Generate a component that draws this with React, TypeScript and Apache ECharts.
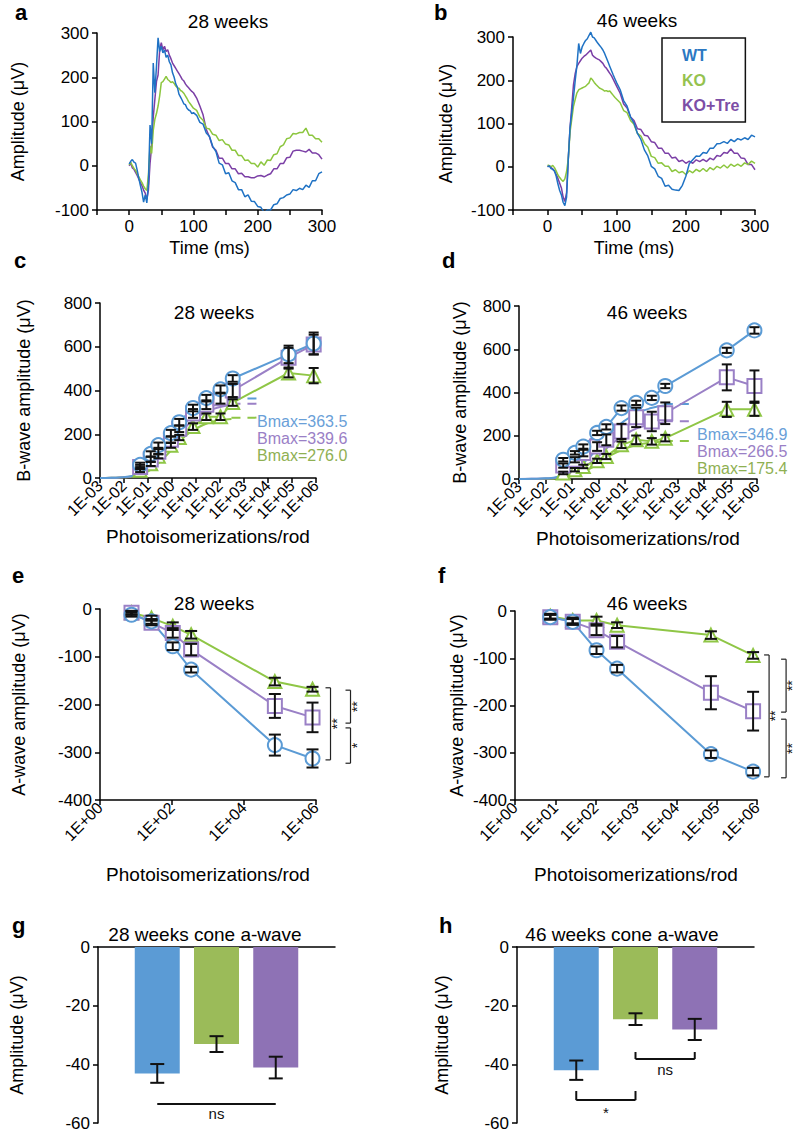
import React, { useEffect, useRef } from 'react';
import * as echarts from 'echarts';

const FONT = '"Liberation Sans", Arial, Helvetica, sans-serif';

// ---------- groups & colours ----------
const GROUPS = ['WT', 'KO', 'KO+Tre'];
const TRACE_COLORS = ['#1f72c4', '#8cc63e', '#7b3fa6'];
const LINE_COLORS = ['#5b9bd5', '#8fc646', '#9a80c6'];
const LABEL_COLORS = ['#6a9fd8', '#8fb052', '#9a80c6'];
const LEGEND_COLORS = ['#2b78c2', '#95c24f', '#7c4ea6'];
const BAR_COLORS = ['#5b9bd5', '#9bbb59', '#8e72b5'];
const SYMBOLS = ['emptyCircle', 'emptyTriangle', 'emptyRect'];
const SYMBOL_SIZES = [14, 13, 14];

// ---------- a, b: ERG traces ----------
const TIME_MS = [0, 2.5, 5, 7.5, 10, 12.5, 15, 17.5, 20, 22.5, 25, 27.5, 30, 32.5, 35, 37.5, 40, 42.5, 45, 47.5, 50,
  52.5, 55, 57.5, 60, 62.5, 65, 67.5, 70, 72.5, 75, 77.5, 80, 82.5, 85, 87.5, 90, 92.5, 95, 97.5, 100,
  105, 110, 115, 120, 125, 130, 135, 140, 145, 150, 155, 160, 165, 170, 175, 180, 185, 190, 195, 200,
  205, 210, 215, 220, 225, 230, 235, 240, 245, 250, 255, 260, 265, 270, 275, 280, 285, 290, 295, 300];

const A28_WT = [4, 10, 14, 8, 6, -10, -28, -45, -60, -82, -66, -84, -40, 92, 50, 232, 165, 225, 289, 258,
  270, 255, 262, 245, 250, 235, 228, 210, 200, 185, 178, 162, 155, 148, 140, 138, 130, 126, 124, 118, 120,
  114, 98, 94, 74, 66, 44, 32, 6, 2, -18, -16, -34, -38, -54, -54, -70, -66, -80, -81, -92,
  -94, -106, -100, -100, -88, -86, -74, -72, -66, -64, -54, -56, -51, -54, -44, -49, -34, -34, -18, -14];
const A28_KO = [2, 8, 0, -6, -10, -18, -25, -32, -38, -46, -52, -56, -20, 45, 28, 80, 105, 118, 135, 158,
  188, 190, 196, 202, 195, 192, 188, 190, 186, 180, 176, 175, 170, 168, 164, 158, 152, 145, 140, 135, 130,
  125, 110, 103, 85, 83, 71, 69, 57, 59, 49, 47, 35, 35, 23, 23, 12, 13, 5, 5, -3,
  9, 1, 13, 12, 25, 27, 43, 47, 61, 63, 73, 72, 75, 75, 85, 69, 69, 61, 61, 53];
const A28_TRE = [0, 6, -5, -8, -15, -22, -30, -38, -45, -55, -62, -76, -55, 5, 45, 110, 150, 190, 205, 262,
  278, 262, 270, 258, 262, 250, 242, 232, 226, 220, 214, 208, 202, 195, 192, 185, 180, 176, 172, 168, 165,
  153, 135, 115, 82, 65, 42, 35, 17, 17, 5, 5, -7, -7, -18, -17, -25, -25, -27, -27, -23,
  -22, -25, -21, -18, -7, -7, 5, 5, 18, 19, 33, 35, 35, 33, 31, 37, 29, 29, 25, 15];

const B46_WT = [0, 2, -4, -6, -10, -22, -40, -55, -65, -82, -90, -70, 20, 90, 125, 160, 200, 235, 285, 262,
  277, 285, 292, 296, 304, 311, 300, 298, 292, 286, 281, 276, 270, 262, 252, 242, 232, 222, 212, 203, 194,
  178, 153, 140, 115, 101, 77, 63, 39, 25, 1, -5, -22, -27, -45, -43, -52, -54, -55, -43, -22,
  7, 16, 25, 24, 33, 31, 43, 43, 53, 54, 58, 54, 63, 58, 65, 62, 67, 63, 73, 69];
const B46_KO = [4, 2, 0, 3, -2, -10, -19, -25, -30, -34, -28, -11, 19, 80, 110, 140, 156, 171, 178, 180,
  182, 184, 186, 190, 194, 205, 201, 195, 190, 186, 182, 180, 178, 175, 176, 174, 175, 170, 165, 160, 156,
  148, 130, 125, 107, 98, 77, 71, 54, 45, 24, 21, 8, 9, 1, 1, -11, -7, -14, -11, -18,
  -9, -14, -6, -11, -4, -11, -2, -7, 1, -3, 4, -3, 6, 1, 6, 1, 9, 5, 13, 8];
const B46_TRE = [0, 3, -2, -5, -10, -18, -27, -38, -49, -70, -80, -60, 19, 90, 140, 190, 216, 232, 239, 245,
  251, 255, 258, 262, 266, 270, 258, 254, 251, 249, 247, 243, 239, 232, 228, 222, 216, 210, 202, 194, 186,
  170, 145, 136, 115, 107, 88, 86, 73, 71, 58, 56, 43, 43, 31, 31, 20, 22, 12, 15, 8,
  13, 8, 16, 12, 17, 12, 20, 16, 26, 24, 33, 31, 41, 31, 31, 20, 19, 5, 5, -7];

// ---------- c, d: B-wave intensity response ----------
const FLASH_B = [0.047, 0.13, 0.27, 0.9, 2, 7.5, 27, 105, 340, 72000, 800000];
const C_WT = [60, 110, 150, 205, 255, 320, 365, 405, 455, 565, 615];
const C_KO = [35, 65, 100, 150, 185, 235, 280, 280, 345, 480, 468];
const C_TRE = [50, 85, 120, 175, 225, 295, 335, 365, 400, 550, 610];
const C_WT_ERR = [10, 12, 12, 15, 15, 15, 15, 18, 15, 40, 50];
const C_KO_ERR = [8, 10, 10, 12, 12, 15, 15, 15, 15, 20, 35];
const C_TRE_ERR = [10, 12, 12, 15, 15, 20, 20, 25, 30, 45, 45];

const D_WT = [89, 121, 150, 213, 241, 328, 352, 375, 430, 595, 687];
const D_KO = [28, 43, 58, 84, 104, 158, 181, 174, 189, 322, 322];
const D_TRE = [62, 89, 120, 150, 181, 220, 285, 266, 304, 470, 430];
const D_WT_ERR = [8, 8, 10, 10, 12, 12, 10, 10, 10, 12, 15];
const D_KO_ERR = [6, 8, 8, 10, 12, 15, 20, 15, 15, 35, 30];
const D_TRE_ERR = [10, 12, 15, 20, 25, 35, 45, 45, 50, 60, 72];

// fitted curves
const FIT_X = [0.001, 0.003, 0.01, 0.03, 0.1, 0.3, 1, 3, 10, 30, 100, 300];
const C_FIT_WT = [0, 1, 4, 14, 42, 100, 175, 245, 295, 325, 345, 355];
const C_FIT_KO = [0, 1, 3, 10, 30, 72, 130, 185, 225, 250, 264, 270];
const C_FIT_TRE = [0, 1, 3, 12, 36, 88, 158, 225, 272, 305, 325, 333];
const D_FIT_WT = [0, 1, 3, 10, 32, 78, 145, 215, 270, 305, 328, 340];
const D_FIT_KO = [0, 0, 1, 4, 14, 35, 70, 110, 140, 158, 168, 172];
const D_FIT_TRE = [0, 1, 2, 7, 22, 55, 105, 160, 205, 235, 252, 261];
const BMAX_X = [300, 4000];
const C_BMAX = [363.5, 276.0, 339.6];
const D_BMAX = [346.9, 175.4, 266.5];

// ---------- e, f: A-wave ----------
const FLASH_A = [7.5, 27, 105, 340, 72000, 800000];
const E_WT = [-12, -26, -78, -127, -285, -313];
const E_KO = [-8, -19, -36, -54, -152, -168];
const E_TRE = [-8, -29, -50, -85, -203, -227];
const E_WT_ERR = [4, 5, 8, 6, 22, 19];
const E_KO_ERR = [4, 5, 8, 8, 8, 5];
const E_TRE_ERR = [4, 5, 10, 12, 25, 31];
const F_WT = [-13, -23, -83, -122, -303, -340];
const F_KO = [-11, -20, -20, -30, -51, -94];
const F_TRE = [-13, -23, -41, -65, -173, -212];
const F_WT_ERR = [5, 6, 8, 8, 8, 8];
const F_KO_ERR = [5, 6, 8, 6, 8, 7];
const F_TRE_ERR = [5, 6, 10, 12, 35, 41];
const E_SIG = [[-165, -316], [-170, -239], [-249, -323]];
const E_SIG_LABELS = ['**', '**', '*'];
const F_SIG = [[-93, -351], [-102, -214], [-229, -353]];
const F_SIG_LABELS = ['**', '**', '**'];

// ---------- g, h: cone a-wave ----------
const BAR_X = [1, 2, 3];
const CONE_28 = [-43.1, -33.1, -41.1];
const CONE_28_ERR = [3.2, 2.7, 3.7];
const CONE_46 = [-42.0, -24.6, -28.1];
const CONE_46_ERR = [3.3, 2.0, 3.6];
// [x1, x2, y, yTick (or null), labelY]
const G_SIG = [[1, 3, -53.5, null, -56.8]];
const G_SIG_LABELS = ['ns'];
const H_SIG = [[1, 2, -52.2, -49.1, -56.3], [2, 3, -38.2, -35.8, -41.9]];
const H_SIG_LABELS = ['*', 'ns'];

// ---------- helpers ----------
const pts = (xs: number[], ys: number[]) => xs.map((x, i) => [x, ys[i]]);
const expLabel = (v: number) => {
  const e = Math.round(Math.log10(v));
  return '1E' + (e < 0 ? '-' : '+') + String(Math.abs(e)).padStart(2, '0');
};

const AXIS_LINE = { onZero: false, lineStyle: { color: '#000', width: 1.5 } };
const AXIS_TICK = { show: true, length: 5, lineStyle: { color: '#000', width: 1.5 } };

function mkAxis(o: any) {
  return {
    axisLine: AXIS_LINE,
    axisTick: AXIS_TICK,
    splitLine: { show: false },
    nameLocation: 'middle',
    nameTextStyle: { color: '#000', fontSize: 18, fontFamily: FONT },
    ...o,
    axisLabel: { color: '#000', fontSize: 17, fontFamily: FONT, margin: 8, ...(o.axisLabel || {}) },
  };
}

const trace = (g: number, ys: number[], gi: number, clip = true) => ({
  type: 'line', name: GROUPS[gi], xAxisIndex: g, yAxisIndex: g,
  data: pts(TIME_MS, ys), symbol: 'none', showSymbol: false, clip,
  lineStyle: { color: TRACE_COLORS[gi], width: 1.5 }, itemStyle: { color: TRACE_COLORS[gi] },
  silent: true,
});

const fit = (g: number, ys: number[], gi: number) => ({
  type: 'line', name: GROUPS[gi] + ' fit', xAxisIndex: g, yAxisIndex: g,
  data: pts(FIT_X, ys), symbol: 'none', smooth: true,
  lineStyle: { color: LINE_COLORS[gi], width: 2 }, silent: true, z: 2,
});

const bmax = (g: number, v: number, gi: number) => ({
  type: 'line', name: GROUPS[gi] + ' Bmax', xAxisIndex: g, yAxisIndex: g,
  data: BMAX_X.map((x) => [x, v]), symbol: 'none',
  lineStyle: { color: LINE_COLORS[gi], width: 2, type: [9, 7] }, silent: true, z: 1,
});

const points = (g: number, xs: number[], ys: number[], gi: number) => ({
  type: 'line', name: GROUPS[gi], xAxisIndex: g, yAxisIndex: g,
  data: pts(xs, ys), symbol: SYMBOLS[gi], symbolSize: SYMBOL_SIZES[gi],
  lineStyle: { color: LINE_COLORS[gi], width: 2 },
  itemStyle: { color: LINE_COLORS[gi], borderWidth: 2 }, z: 4,
});

const errSeries = (g: number, xs: number[], ys: number[], es: number[], cap = 6) => ({
  type: 'custom', name: 'err', xAxisIndex: g, yAxisIndex: g,
  data: xs.map((x, i) => [x, ys[i] - es[i], ys[i] + es[i]]),
  encode: { x: 0, y: [1, 2] },
  silent: true, z: 6,
  renderItem: (params: any, api: any) => {
    const lo = api.coord([api.value(0), api.value(1)]);
    const hi = api.coord([api.value(0), api.value(2)]);
    const st = () => ({ stroke: '#111', lineWidth: 2 });
    return {
      type: 'group',
      children: [
        { type: 'line', shape: { x1: lo[0], y1: lo[1], x2: hi[0], y2: hi[1] }, style: st() },
        { type: 'line', shape: { x1: lo[0] - cap, y1: lo[1], x2: lo[0] + cap, y2: lo[1] }, style: st() },
        { type: 'line', shape: { x1: hi[0] - cap, y1: hi[1], x2: hi[0] + cap, y2: hi[1] }, style: st() },
      ],
    };
  },
});

const sigSeries = (g: number, xRef: number, ranges: number[][], labels: string[], offsets: number[]) => ({
  type: 'custom', name: 'sig', xAxisIndex: g, yAxisIndex: g,
  data: ranges.map((r) => [xRef, r[0], r[1]]),
  encode: { x: 0, y: [1, 2] },
  silent: true, clip: false, z: 6,
  renderItem: (params: any, api: any) => {
    const i = params.dataIndex;
    const a = api.coord([api.value(0), api.value(1)]);
    const b = api.coord([api.value(0), api.value(2)]);
    const x = a[0] + offsets[i];
    const st = () => ({ stroke: '#222', lineWidth: 1.2 });
    return {
      type: 'group',
      children: [
        { type: 'line', shape: { x1: x, y1: a[1], x2: x, y2: b[1] }, style: st() },
        { type: 'line', shape: { x1: x - 5, y1: a[1], x2: x, y2: a[1] }, style: st() },
        { type: 'line', shape: { x1: x - 5, y1: b[1], x2: x, y2: b[1] }, style: st() },
        {
          type: 'text', x: x + 6, y: (a[1] + b[1]) / 2, rotation: Math.PI / 2,
          style: { text: labels[i], fill: '#111', fontSize: 14, fontFamily: FONT, textAlign: 'center', textVerticalAlign: 'middle' },
        },
      ],
    };
  },
});

const barSigSeries = (g: number, items: any[][], labels: string[]) => ({
  type: 'custom', name: 'sig', xAxisIndex: g, yAxisIndex: g,
  data: items.map((it) => [it[0], it[1], it[2], it[3] == null ? it[2] : it[3], it[4]]),
  encode: { x: [0, 1], y: [2, 3, 4] },
  silent: true, clip: false, z: 6,
  renderItem: (params: any, api: any) => {
    const i = params.dataIndex;
    const p1 = api.coord([api.value(0), api.value(2)]);
    const p2 = api.coord([api.value(1), api.value(2)]);
    const t1 = api.coord([api.value(0), api.value(3)]);
    const t2 = api.coord([api.value(1), api.value(3)]);
    const lab = api.coord([(api.value(0) + api.value(1)) / 2, api.value(4)]);
    const st = () => ({ stroke: '#111', lineWidth: 2 });
    return {
      type: 'group',
      children: [
        { type: 'line', shape: { x1: p1[0], y1: p1[1], x2: p2[0], y2: p2[1] }, style: st() },
        { type: 'line', shape: { x1: p1[0], y1: p1[1], x2: t1[0], y2: t1[1] }, style: st() },
        { type: 'line', shape: { x1: p2[0], y1: p2[1], x2: t2[0], y2: t2[1] }, style: st() },
        {
          type: 'text', x: lab[0], y: lab[1],
          style: { text: labels[i], fill: '#111', fontSize: 15, fontFamily: FONT, textAlign: 'center', textVerticalAlign: 'middle' },
        },
      ],
    };
  },
});

const bars = (g: number, vals: number[]) => ({
  type: 'bar', name: 'cone', xAxisIndex: g, yAxisIndex: g, barWidth: 45,
  data: BAR_X.map((x, i) => ({ value: [x, vals[i]], itemStyle: { color: BAR_COLORS[i] } })),
  silent: true,
});

const gtext = (text: string, x: number, y: number, size: number, opts: any = {}) => ({
  type: 'text', x, y,
  style: {
    text, fill: opts.color || '#000', fontSize: size, fontFamily: FONT, fontWeight: opts.bold ? 'bold' : 'normal',
    textAlign: opts.align || 'center', textVerticalAlign: 'middle',
  },
});

function buildOption() {
  const timeAxis = () => mkAxis({
    type: 'value', min: -50, max: 300, interval: 50, name: 'Time (ms)', nameGap: 29,
    axisLabel: { formatter: (v: number) => (v >= 0 && v % 100 === 0 ? String(v) : '') },
  });
  const logAxisB = (gap: number) => mkAxis({
    type: 'log', logBase: 10, min: 0.001, max: 1000000, name: 'Photoisomerizations/rod', nameGap: gap,
    nameTextStyle: { color: '#000', fontSize: 19, fontFamily: FONT },
    axisLabel: { rotate: 45, fontSize: 16, margin: 5, formatter: expLabel },
  });
  const logAxisA = (base: number, gap: number) => mkAxis({
    type: 'log', logBase: base, min: 1, max: 1000000, name: 'Photoisomerizations/rod', nameGap: gap,
    nameTextStyle: { color: '#000', fontSize: 19, fontFamily: FONT },
    axisLabel: { rotate: 45, fontSize: 16, margin: 5, formatter: expLabel },
  });
  const barX = () => mkAxis({
    type: 'value', min: 0, max: 4, position: 'top',
    axisTick: { show: false }, axisLabel: { show: false },
  });

  return {
    animation: false,
    backgroundColor: '#fff',
    textStyle: { fontFamily: FONT },
    grid: [
      { left: 97, top: 33, width: 225, height: 177 },
      { left: 513, top: 37, width: 242, height: 173 },
      { left: 100, top: 303, width: 216, height: 175 },
      { left: 519, top: 306, width: 238, height: 173 },
      { left: 100, top: 609, width: 216, height: 191 },
      { left: 515, top: 611, width: 242, height: 189 },
      { left: 98, top: 947, width: 237, height: 176 },
      { left: 517, top: 947, width: 237, height: 176 },
    ],
    xAxis: [
      { gridIndex: 0, ...timeAxis() },
      { gridIndex: 1, ...timeAxis() },
      { gridIndex: 2, ...logAxisB(49) },
      { gridIndex: 3, ...logAxisB(50) },
      { gridIndex: 4, ...logAxisA(100, 65) },
      { gridIndex: 5, ...logAxisA(10, 65) },
      { gridIndex: 6, ...barX() },
      { gridIndex: 7, ...barX() },
    ],
    yAxis: [
      { gridIndex: 0, ...mkAxis({ type: 'value', min: -100, max: 300, interval: 100, name: 'Amplitude (μV)', nameGap: 70 }) },
      { gridIndex: 1, ...mkAxis({ type: 'value', min: -100, max: 300, interval: 100, name: 'Amplitude (μV)', nameGap: 58 }) },
      { gridIndex: 2, ...mkAxis({ type: 'value', min: 0, max: 800, interval: 200, name: 'B-wave amplitude (μV)', nameGap: 67 }) },
      { gridIndex: 3, ...mkAxis({ type: 'value', min: 0, max: 800, interval: 200, name: 'B-wave amplitude (μV)', nameGap: 50 }) },
      { gridIndex: 4, ...mkAxis({ type: 'value', min: -400, max: 0, interval: 100, name: 'A-wave amplitude (μV)', nameGap: 72 }) },
      { gridIndex: 5, ...mkAxis({ type: 'value', min: -400, max: 0, interval: 100, name: 'A-wave amplitude (μV)', nameGap: 49 }) },
      { gridIndex: 6, ...mkAxis({ type: 'value', min: -60, max: 0, interval: 20, name: 'Amplitude (μV)', nameGap: 72 }) },
      { gridIndex: 7, ...mkAxis({ type: 'value', min: -60, max: 0, interval: 20, name: 'Amplitude (μV)', nameGap: 66 }) },
    ],
    legend: {
      left: 662, top: 38, orient: 'vertical', selectedMode: false,
      icon: 'rect', itemWidth: 0, itemHeight: 16, itemGap: 9,
      itemStyle: { opacity: 0 }, lineStyle: { opacity: 0 },
      padding: [9, 6, 9, 15], borderColor: '#111', borderWidth: 1.5,
      textStyle: { fontSize: 16, fontWeight: 'bold', fontFamily: FONT },
      data: GROUPS.map((n, i) => ({ name: n, textStyle: { color: LEGEND_COLORS[i], fontSize: 16, fontWeight: 'bold' } })),
    },
    series: [
      // a
      trace(0, A28_TRE, 2), trace(0, A28_KO, 1), trace(0, A28_WT, 0),
      // b
      trace(1, B46_TRE, 2, false), trace(1, B46_KO, 1, false), trace(1, B46_WT, 0, false),
      // c
      bmax(2, C_BMAX[1], 1), bmax(2, C_BMAX[2], 2), bmax(2, C_BMAX[0], 0),
      fit(2, C_FIT_KO, 1), fit(2, C_FIT_TRE, 2), fit(2, C_FIT_WT, 0),
      points(2, FLASH_B, C_KO, 1), points(2, FLASH_B, C_TRE, 2), points(2, FLASH_B, C_WT, 0),
      errSeries(2, FLASH_B, C_KO, C_KO_ERR, 5), errSeries(2, FLASH_B, C_TRE, C_TRE_ERR, 5), errSeries(2, FLASH_B, C_WT, C_WT_ERR, 5),
      // d
      bmax(3, D_BMAX[1], 1), bmax(3, D_BMAX[2], 2), bmax(3, D_BMAX[0], 0),
      fit(3, D_FIT_KO, 1), fit(3, D_FIT_TRE, 2), fit(3, D_FIT_WT, 0),
      points(3, FLASH_B, D_KO, 1), points(3, FLASH_B, D_TRE, 2), points(3, FLASH_B, D_WT, 0),
      errSeries(3, FLASH_B, D_KO, D_KO_ERR, 5), errSeries(3, FLASH_B, D_TRE, D_TRE_ERR, 5), errSeries(3, FLASH_B, D_WT, D_WT_ERR, 5),
      // e
      points(4, FLASH_A, E_KO, 1), points(4, FLASH_A, E_TRE, 2), points(4, FLASH_A, E_WT, 0),
      errSeries(4, FLASH_A, E_KO, E_KO_ERR, 6), errSeries(4, FLASH_A, E_TRE, E_TRE_ERR, 6), errSeries(4, FLASH_A, E_WT, E_WT_ERR, 6),
      sigSeries(4, FLASH_A[FLASH_A.length - 1], E_SIG, E_SIG_LABELS, [18, 38, 38]),
      // f
      points(5, FLASH_A, F_KO, 1), points(5, FLASH_A, F_TRE, 2), points(5, FLASH_A, F_WT, 0),
      errSeries(5, FLASH_A, F_KO, F_KO_ERR, 6), errSeries(5, FLASH_A, F_TRE, F_TRE_ERR, 6), errSeries(5, FLASH_A, F_WT, F_WT_ERR, 6),
      sigSeries(5, FLASH_A[FLASH_A.length - 1], F_SIG, F_SIG_LABELS, [16, 33, 33]),
      // g
      bars(6, CONE_28), errSeries(6, BAR_X, CONE_28, CONE_28_ERR, 7), barSigSeries(6, G_SIG, G_SIG_LABELS),
      // h
      bars(7, CONE_46), errSeries(7, BAR_X, CONE_46, CONE_46_ERR, 7), barSigSeries(7, H_SIG, H_SIG_LABELS),
    ],
    graphic: [
      // panel letters
      gtext('a', 15, 12, 22, { bold: true, align: 'left' }),
      gtext('b', 434, 12, 22, { bold: true, align: 'left' }),
      gtext('c', 14, 260, 22, { bold: true, align: 'left' }),
      gtext('d', 442, 260, 22, { bold: true, align: 'left' }),
      gtext('e', 12, 575, 22, { bold: true, align: 'left' }),
      gtext('f', 438, 575, 22, { bold: true, align: 'left' }),
      gtext('g', 12, 925, 22, { bold: true, align: 'left' }),
      gtext('h', 439, 925, 22, { bold: true, align: 'left' }),
      // titles
      gtext('28 weeks', 228, 21, 19),
      gtext('46 weeks', 637, 20, 19),
      gtext('28 weeks', 214, 312, 19),
      gtext('46 weeks', 647, 312, 19),
      gtext('28 weeks', 214, 603, 19),
      gtext('46 weeks', 647, 603, 19),
      gtext('28 weeks cone a-wave', 205, 934, 19),
      gtext('46 weeks cone a-wave', 622, 934, 19),
      // Bmax labels
      gtext('Bmax=' + C_BMAX[0].toFixed(1), 257, 421, 16, { align: 'left', color: LABEL_COLORS[0] }),
      gtext('Bmax=' + C_BMAX[2].toFixed(1), 257, 438, 16, { align: 'left', color: LABEL_COLORS[2] }),
      gtext('Bmax=' + C_BMAX[1].toFixed(1), 257, 455, 16, { align: 'left', color: LABEL_COLORS[1] }),
      gtext('Bmax=' + D_BMAX[0].toFixed(1), 697, 434, 16, { align: 'left', color: LABEL_COLORS[0] }),
      gtext('Bmax=' + D_BMAX[2].toFixed(1), 697, 451, 16, { align: 'left', color: LABEL_COLORS[2] }),
      gtext('Bmax=' + D_BMAX[1].toFixed(1), 697, 468, 16, { align: 'left', color: LABEL_COLORS[1] }),
    ],
  };
}

export default function App() {
  const ref = useRef<HTMLDivElement>(null);
  useEffect(() => {
    if (!ref.current) return;
    const chart = echarts.init(ref.current, null, { renderer: 'svg' });
    chart.setOption(buildOption() as any);
    return () => chart.dispose();
  }, []);
  return (
    <div
      ref={ref}
      style={{ position: 'absolute', left: 0, top: 0, width: 800, height: 1133, background: '#fff' }}
    />
  );
}
